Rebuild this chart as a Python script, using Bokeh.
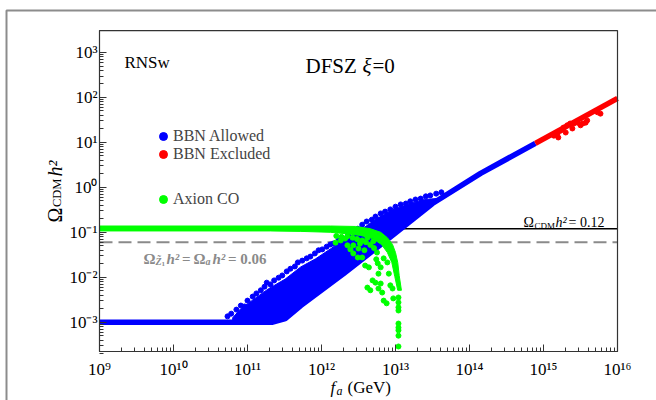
import math
from bokeh.plotting import figure
from bokeh.models import Label, Legend, LegendItem, FixedTicker, BoxAnnotation
from bokeh.embed import file_html
from bokeh.resources import INLINE

# ---------------- data (log10 values) ----------------
x_ticks = [1e9, 1e10, 1e11, 1e12, 1e13, 1e14, 1e15, 1e16]
x_tick_labels = ["10⁹", "10¹⁰", "10¹¹", "10¹²", "10¹³", "10¹⁴", "10¹⁵", "10¹⁶"]
y_ticks = [1e-3, 1e-2, 1e-1, 1e0, 1e1, 1e2, 1e3]
y_tick_labels = ["10⁻³", "10⁻²", "10⁻¹", "10⁰", "10¹", "10²", "10³"]

omega_cdm = 0.12
omega_half = 0.06

# BBN allowed: main (minimal) curve
blue_curve_log_fa = [9.0, 11.34, 11.51, 11.72, 12.30, 12.99, 13.50, 14.15, 14.89]
blue_curve_log_om = [-3.0, -3.0, -2.92, -2.63, -1.92, -1.03, -0.36, 0.31, 0.98]
# BBN allowed: dense cloud region
blue_cloud_log_fa = [10.80, 10.91, 11.11, 11.28, 11.51, 11.72, 11.92, 12.12, 12.32, 12.53,
                     12.74, 12.96, 13.18, 13.39, 13.55, 13.50, 12.99, 12.30, 11.72, 11.51,
                     11.34, 10.80]
blue_cloud_log_om = [-2.90, -2.70, -2.46, -2.26, -2.04, -1.77, -1.59, -1.37, -1.15, -0.95,
                     -0.70, -0.50, -0.37, -0.27, -0.25, -0.36, -1.03, -1.92, -2.63, -2.92,
                     -3.0, -3.0]
# BBN allowed: scattered points on the cloud edge
blue_pts_log_fa = [10.73, 10.78, 10.85, 10.91, 10.96, 11.00, 11.07, 11.12, 11.18, 11.23,
                   11.26, 11.31, 11.36, 11.42, 11.47, 11.53, 11.58, 11.64, 11.68, 11.74,
                   11.80, 11.85, 11.91, 11.96, 12.01, 12.07, 12.12, 12.16, 12.23, 12.30,
                   12.36, 12.42, 12.49, 12.55, 12.61, 12.68, 12.73, 12.80, 12.86, 12.93,
                   13.00, 13.07, 13.14, 13.20, 13.27, 13.34, 13.41, 13.47, 13.55, 13.62]
blue_pts_log_om = [-2.87, -2.81, -2.72, -2.63, -2.65, -2.52, -2.43, -2.36, -2.29, -2.21,
                   -2.12, -2.16, -2.07, -2.01, -1.96, -1.87, -1.81, -1.76, -1.67, -1.63,
                   -1.58, -1.54, -1.47, -1.40, -1.38, -1.32, -1.27, -1.25, -1.18, -1.14,
                   -1.05, -0.96, -0.92, -0.83, -0.76, -0.72, -0.65, -0.58, -0.54, -0.49,
                   -0.43, -0.38, -0.36, -0.31, -0.27, -0.25, -0.20, -0.18, -0.14, -0.11]

# BBN excluded
red_curve_log_fa = [14.89, 16.0]
red_curve_log_om = [0.98, 1.98]
red_pts_log_fa = [15.14, 15.19, 15.23, 15.27, 15.32, 15.36, 15.41, 15.46, 15.53, 15.59,
                  15.20, 15.30, 15.39, 15.50, 15.57, 15.77, 15.73]
red_pts_log_om = [1.15, 1.20, 1.26, 1.33, 1.38, 1.42, 1.42, 1.44, 1.42, 1.49,
                  1.11, 1.22, 1.31, 1.38, 1.44, 1.64, 1.67]

# Axion CO
green_band_log_fa = [9.0, 12.12, 12.46, 12.66, 12.80, 12.89, 12.96, 13.00, 13.03, 13.05, 13.08,
                     13.03, 12.99, 12.95, 12.89, 12.81, 12.69, 12.53, 12.32, 12.12, 11.72,
                     11.31, 9.0]
green_band_log_om = [-0.86, -0.86, -0.87, -0.92, -1.00, -1.12, -1.27, -1.45, -1.67, -1.96, -2.29,
                     -2.29, -1.98, -1.67, -1.45, -1.27, -1.14, -1.07, -1.03, -1.00, -0.98,
                     -0.97, -0.97]
green_pts_log_fa = [12.59, 12.64, 12.76, 12.80, 12.77, 12.89, 12.91, 12.84, 12.62, 12.69,
                    12.66, 12.77, 12.82, 12.93, 12.96, 12.84, 12.88, 12.97, 12.80, 12.73,
                    12.43, 12.49, 12.39, 12.35, 12.55, 12.43, 12.50, 12.26, 12.19, 12.32,
                    13.04, 13.04, 13.04, 13.04, 13.04, 13.04, 13.04, 13.04, 13.04,
                    12.20, 12.27, 12.35, 12.42, 12.48, 12.55, 12.60, 12.66, 12.71, 12.62,
                    12.70, 12.75, 12.74, 12.52, 12.58]
green_pts_log_om = [-1.74, -1.78, -1.69, -1.78, -1.92, -1.67, -1.92, -1.58, -2.23, -2.07,
                    -2.29, -2.25, -2.34, -2.18, -2.25, -2.52, -2.58, -2.47, -2.14, -2.12,
                    -1.29, -1.56, -1.38, -1.29, -1.56, -1.47, -1.36, -1.18, -1.23, -1.14,
                    -2.45, -2.56, -2.67, -2.74, -3.03, -3.12, -3.18, -3.30, -3.54,
                    -1.08, -1.10, -1.09, -1.12, -1.15, -1.18, -1.22, -1.28, -1.35, -1.12,
                    -1.20, -1.45, -1.60, -1.25, -1.40]


def p10(a):
    return [10.0 ** v for v in a]


FONT = "Liberation Serif"
W, H = 656, 400
# axis limits of the plotted box
X_LO, X_HI = 1e9, 1e16
Y_LO, Y_HI = 10 ** -3.652, 10 ** 3.489

p = figure(width=W, height=H, x_axis_type="log", y_axis_type="log",
           x_range=(10 ** 7.6622, 10 ** 16.527), y_range=(10 ** -4.742, 10 ** 4.157),
           output_backend="svg", toolbar_location=None, title=None,
           min_border=0, min_border_left=0, min_border_right=0,
           min_border_top=0, min_border_bottom=0)
p.grid.visible = False
p.outline_line_color = None

x_minor = [k * 10.0 ** e for e in range(9, 16) for k in range(2, 10)]
y_minor = [k * 10.0 ** e for e in range(-4, 3) for k in range(2, 10)]
p.xaxis.fixed_location = Y_LO
p.yaxis.fixed_location = X_LO
p.xaxis.bounds = (X_LO, X_HI)
p.yaxis.bounds = (Y_LO, Y_HI)
for ax, ticks, labels, minor in [(p.xaxis[0], x_ticks, x_tick_labels, x_minor),
                                 (p.yaxis[0], y_ticks, y_tick_labels, y_minor)]:
    ax.ticker = FixedTicker(ticks=ticks, minor_ticks=minor)
    ax.major_label_overrides = dict(zip(ticks, labels))
    ax.major_tick_in = 7
    ax.major_tick_out = 0
    ax.minor_tick_in = 4
    ax.minor_tick_out = 0
    ax.axis_line_color = "#333333"
    ax.major_tick_line_color = "#333333"
    ax.minor_tick_line_color = "#333333"
    ax.major_label_text_font = FONT
    ax.major_label_text_font_size = "17px"
    ax.major_label_text_color = "black"
p.xaxis.major_label_standoff = 8
p.yaxis.major_label_standoff = 2

# plot box
p.add_layout(BoxAnnotation(left=X_LO, right=X_HI, bottom=Y_LO, top=Y_HI,
                           fill_alpha=0, line_color="#333333", line_alpha=1, line_width=1.2))

# reference lines (drawn first so the points cover them)
p.segment(x0=[X_LO], y0=[omega_cdm], x1=[X_HI], y1=[omega_cdm],
          line_color="black", line_width=1.6)
p.segment(x0=[X_LO], y0=[omega_half], x1=[X_HI], y1=[omega_half],
          line_color="#8a8a8a", line_width=2, line_dash="13 6")

# data
p.patch(p10(blue_cloud_log_fa), p10(blue_cloud_log_om), fill_color="#0000ff", line_color="#0000ff")
p.line(p10(blue_curve_log_fa), p10(blue_curve_log_om), line_color="#0000ff", line_width=5.5,
       line_join="round", line_cap="butt")
blue_r = p.scatter(p10(blue_pts_log_fa), p10(blue_pts_log_om), size=5, color="#0000ff")

p.line(p10(red_curve_log_fa), p10(red_curve_log_om), line_color="#ff0000", line_width=5.5,
       line_join="round", line_cap="butt")
red_r = p.scatter(p10(red_pts_log_fa), p10(red_pts_log_om), size=5, color="#ff0000")

p.patch(p10(green_band_log_fa), p10(green_band_log_om), fill_color="#00ff00", line_color="#00ff00")
green_r = p.scatter(p10(green_pts_log_fa), p10(green_pts_log_om), size=5, color="#00ff00")


def add_legend(renderer, label, x, y):
    leg = Legend(items=[LegendItem(label=label, renderers=[renderer])], location=(x, y),
                 glyph_width=20, glyph_height=20, label_standoff=0, padding=0, margin=0,
                 spacing=0, border_line_alpha=0, background_fill_alpha=0,
                 label_text_font=FONT, label_text_font_size="16px", label_height=20)
    p.add_layout(leg)


add_legend(blue_r, "BBN Allowed", 153, 254.5)
add_legend(red_r, "BBN Excluded", 153, 236.5)
add_legend(green_r, "Axion CO", 153, 191)


def txt(text, x, y, size, style="normal", color="black", angle=0.0):
    # x, y: screen px from the left / bottom edge of the canvas
    p.add_layout(Label(x=x, y=y, x_units="screen", y_units="screen", text=text,
                       text_font=FONT, text_font_size=f"{size}px", text_font_style=style,
                       text_color=color, angle=angle, text_align="left",
                       text_baseline="alphabetic"))


txt("RNSw", 124, 338, 17)
txt("DFSZ", 305, 335, 21)
txt("ξ", 362, 335, 21, "italic")
txt("=0", 372, 335, 21)

txt("Ω", 523, 178, 14)
txt("CDM", 534, 175, 9)
txt("h²", 555, 178, 14, "italic")
txt("= 0.12", 568, 178, 14)

GRAY = "#8a8a8a"
txt("Ω", 143, 142, 15, "bold", GRAY)
txt("Z̃", 155, 139, 10, "bold italic", GRAY)
txt("1", 161, 137, 7, "bold", GRAY)
txt("h²", 166, 142, 15, "bold italic", GRAY)
txt("=", 181.5, 142, 15, "bold", GRAY)
txt("Ω", 193, 142, 15, "bold", GRAY)
txt("a", 205, 139, 10, "bold italic", GRAY)
txt("h²", 212, 142, 15, "bold italic", GRAY)
txt("= 0.06", 227.5, 142, 15, "bold", GRAY)

# axis titles
txt("f", 330, 13, 17, "italic")
txt("a", 336, 10, 12, "italic")
txt("(GeV)", 347, 13, 17)

R = math.pi / 2
txt("Ω", 54, 178, 20, angle=R)
txt("CDM", 56, 193.5, 12.5, angle=R)
txt("h²", 54, 224, 20, "italic", angle=R)

# outer frame of the figure
p.add_layout(BoxAnnotation(left=6, right=W + 50, top=H - 10, bottom=-50,
                           left_units="screen", right_units="screen",
                           top_units="screen", bottom_units="screen",
                           fill_alpha=0, line_color="#8c8c8c", line_alpha=1, line_width=2))

open("out.html", "w").write(file_html(p, INLINE))
